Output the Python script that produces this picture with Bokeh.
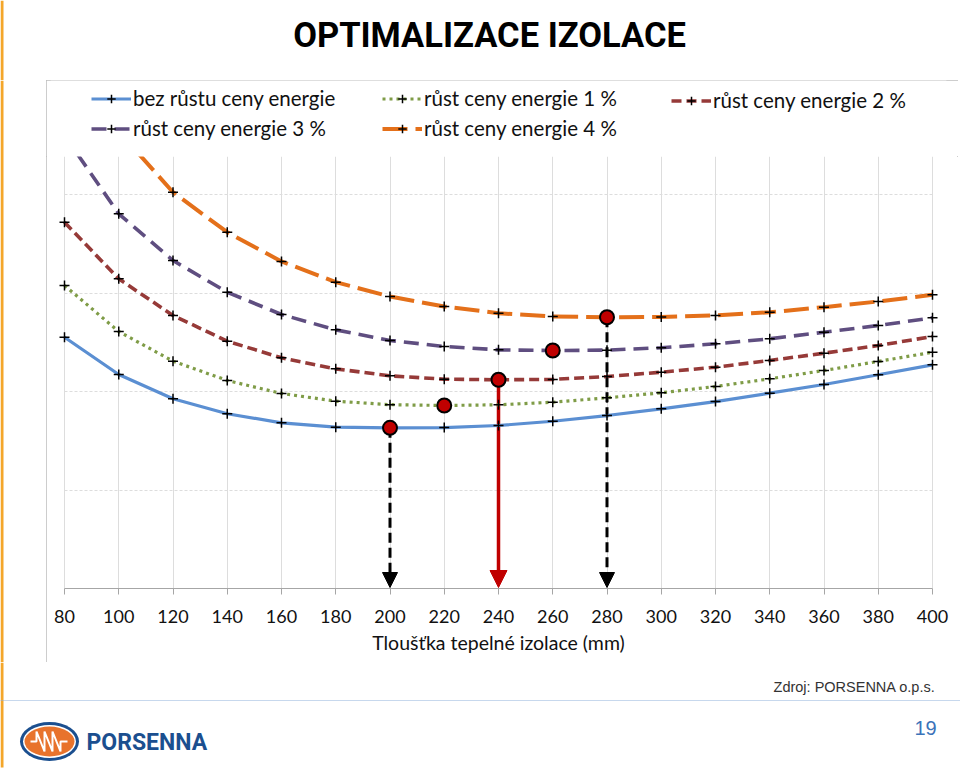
import numpy as np
from bokeh.plotting import figure
from bokeh.layouts import column, row
from bokeh.models import (Range1d, FixedTicker, Grid, Legend, LegendItem, Label,
                          Arrow, NormalHead, Span)
from bokeh.embed import file_html
from bokeh.resources import INLINE

# ---------------- data ----------------
thickness = [80, 100, 120, 140, 160, 180, 200, 220, 240, 260, 280, 300, 320, 340, 360, 380, 400]
labels = ["bez růstu ceny energie", "růst ceny energie 1 %", "růst ceny energie 2 %",
          "růst ceny energie 3 %", "růst ceny energie 4 %"]
cost_0 = [255.1, 217.3, 192.6, 177.4, 168.2, 163.8, 163.1, 163.4, 165.5, 169.8, 175.6, 182.4, 189.8, 198.3, 207.1, 217.0, 227.1]
cost_1 = [307.6, 260.9, 230.8, 211.2, 198.0, 190.2, 186.6, 185.8, 186.5, 189.1, 193.6, 198.7, 205.1, 212.9, 221.3, 230.5, 239.9]
cost_2 = [371.9, 314.4, 277.2, 251.1, 234.2, 223.0, 215.9, 212.5, 211.9, 212.3, 215.2, 219.6, 224.7, 231.5, 238.9, 246.7, 255.8]
cost_3 = [460.0, 380.4, 333.0, 300.8, 278.2, 262.6, 251.8, 245.7, 242.3, 241.6, 242.0, 244.4, 248.4, 253.5, 260.2, 267.0, 274.8]
cost_4 = [555.0, 464.0, 402.3, 361.7, 332.0, 311.0, 296.4, 286.3, 279.5, 276.1, 275.4, 275.7, 277.2, 280.5, 285.6, 291.4, 298.2]
y_grid_ticks = [100, 200, 300, 400]
title_text = "OPTIMALIZACE IZOLACE"
x_title = "Tloušťka tepelné izolace (mm)"
source_text = "Zdroj: PORSENNA o.p.s."
page_no = "19"
logo_text = "PORSENNA"

series = [cost_0, cost_1, cost_2, cost_3, cost_4]
colors = ["#5B8FD2", "#7F9C47", "#963A38", "#5F4E80", "#E4701A"]
widths = [3.2, 3.2, 3.6, 3.6, 4.0]
dashes = ["solid", "3 4", "10 5", "15 8", "25 8"]

FONT = "Lato"
STRIPE = "#F4A62A"

def blank(width, height, xr, yr):
    f = figure(width=width, height=height, x_range=Range1d(*xr), y_range=Range1d(*yr),
               x_axis_type=None, y_axis_type=None, output_backend="svg", toolbar_location=None,
               min_border=0)
    f.outline_line_color = None
    f.grid.visible = False
    f.background_fill_color = "white"
    f.border_fill_color = "white"
    return f

# ---------------- title strip (page y 0..80) ----------------
t = blank(960, 80, (0, 960), (80, 0))
t.quad(left=[0], right=[3], top=[0], bottom=[80], fill_color=STRIPE, line_color=None)
t.add_layout(Label(x=489, y=34, text=title_text, text_font="Roboto", text_font_size="34.5px",
                   text_font_style="bold", text_align="center", text_baseline="middle",
                   text_color="black"))

# ---------------- left strip beside the chart box (page y 80..662) ----------------
ls = blank(46, 582, (0, 46), (662, 80))
ls.quad(left=[0], right=[3], top=[80], bottom=[662], fill_color=STRIPE, line_color=None)

# ---------------- legend area inside box (page x 46..958, y 80..156) ----------------
lg_fig = blank(912, 76, (46, 958), (156, 80))
items = []
for lab, c, w, d in zip(labels, colors, widths, dashes):
    # legend-only renderers, their points lie outside the visible area
    r1 = lg_fig.line(x=[-200, -190], y=[-200, -200], line_color=c, line_width=w, line_dash=d)
    r2 = lg_fig.scatter(x=[-200], y=[-200], marker="cross", size=9, line_color="black",
                        line_width=1.5)
    items.append(LegendItem(label=lab, renderers=[r1, r2]))

def mk_legend(its, page_left, page_top):
    n = len(its)
    item_h = 21
    spacing = 6
    hgt = n * item_h + (n - 1) * spacing
    lg = Legend(items=its, location=(page_left - 46, 156 - (page_top + hgt)),
                orientation="vertical", glyph_width=40, glyph_height=item_h,
                label_height=item_h, label_standoff=2, spacing=spacing, padding=0, margin=0,
                border_line_color=None, background_fill_alpha=0, label_text_font=FONT,
                label_text_font_size="20.5px", label_text_color="#111111")
    lg_fig.add_layout(lg)

mk_legend([items[0], items[3]], 87, 92)
mk_legend([items[1], items[4]], 378, 92)
mk_legend([items[2]], 667, 91)

# ---------------- chart (page x 46..958, y 156..662) ----------------
CW, CH = 912, 506
BL, BR = 4, 12
pxu_x = 868.0 / 320.0
pxu_y = 0.985
x_start = 80 - (64 - 46 - BL) / pxu_x
x_end = x_start + (CW - BL - BR) / pxu_x
y_top = 432 / pxu_y

p = figure(width=CW, height=CH, x_range=Range1d(x_start, x_end), y_range=Range1d(0, y_top),
           y_axis_type=None, output_backend="svg", toolbar_location=None,
           min_border_left=BL, min_border_right=BR, min_border_top=0, min_border_bottom=CH - 432)
p.outline_line_color = None
p.background_fill_color = "white"
p.border_fill_color = "white"

ax = p.xaxis[0]
ax.ticker = FixedTicker(ticks=thickness)
ax.bounds = (80, 400)
ax.axis_line_color = "#A6A6A6"
ax.major_tick_line_color = "#A6A6A6"
ax.major_tick_out = 6
ax.major_tick_in = 0
ax.minor_tick_line_color = None
ax.major_label_text_font = FONT
ax.major_label_text_font_size = "18px"
ax.major_label_text_color = "#111111"
ax.major_label_standoff = 15
ax.axis_label = x_title
ax.axis_label_text_font = FONT
ax.axis_label_text_font_size = "19.5px"
ax.axis_label_text_font_style = "normal"
ax.axis_label_text_color = "#111111"
ax.axis_label_standoff = 5

p.xgrid.grid_line_color = "#DDDDDD"
p.xgrid.grid_line_width = 1

gkw = dict(dimension=1, ticker=FixedTicker(ticks=y_grid_ticks), grid_line_color="#DDDDDD",
           grid_line_dash="3 2", grid_line_width=1)
if "cross_bounds" in Grid.properties():
    gkw["cross_bounds"] = (80, 400)
p.add_layout(Grid(**gkw))

opt_idx = [int(np.argmin(s)) for s in series]
opt_x = [thickness[i] for i in opt_idx]
opt_y = [series[k][i] for k, i in enumerate(opt_idx)]
arrow_specs = [(0, "black", "10 5", 3.0, 15), (2, "#C00000", "solid", 3.5, 17), (4, "black", "10 5", 3.0, 15)]
for k, col, dash, lw, hs in arrow_specs:
    p.add_layout(Arrow(end=NormalHead(size=hs, fill_color=col, line_color=col, line_width=1),
                       x_start=opt_x[k], y_start=opt_y[k], x_end=opt_x[k], y_end=1.0,
                       line_color=col, line_width=lw, line_dash=dash, level="underlay"))

for s, c, w, d in zip(series, colors, widths, dashes):
    p.line(thickness, s, line_color=c, line_width=w, line_dash=d)
    p.scatter(thickness, s, marker="cross", size=10, line_color="black", line_width=1.5)

p.scatter(opt_x, opt_y, marker="circle", size=14, fill_color="#C00000", line_color="black", line_width=2)

box = column(lg_fig, p, spacing=0,
             styles={"outline": "1.5px solid #BDBDBD", "outline-offset": "-1.5px"})

# ---------------- footer (page y 662..784) ----------------
f = blank(960, 122, (0, 960), (784, 662))
f.quad(left=[0], right=[3], top=[662], bottom=[767], fill_color=STRIPE, line_color=None)
f.add_layout(Label(x=935, y=686, text=source_text, text_font="Liberation Sans",
                   text_font_size="14.5px", text_align="right", text_baseline="middle",
                   text_color="#333333"))
f.add_layout(Span(location=700, dimension="width", line_color="#8FB0DA", line_width=1,
                  line_dash="1 1"))
f.add_layout(Label(x=925, y=727, text=page_no, text_font="Liberation Sans",
                   text_font_size="20px", text_align="center", text_baseline="middle",
                   text_color="#3B73B9"))
# logo
f.ellipse(x=[49], y=[741], width=[59], height=[39], fill_color="#1B4F8F", line_color=None)
f.ellipse(x=[49], y=[741], width=[53], height=[33], fill_color="white", line_color=None)
f.ellipse(x=[49], y=[741], width=[50], height=[30], fill_color="#E8732C", line_color=None)
f.line(x=[30, 36, 36, 44, 44, 52, 52, 60, 60, 67], y=[741, 741, 731, 751, 731, 751, 731, 751, 741, 741],
       line_color="white", line_width=2)
f.add_layout(Label(x=86, y=742, text=logo_text, text_font="Roboto", text_font_size="23px",
                   text_font_style="bold", text_align="left", text_baseline="middle",
                   text_color="#1B4F8F"))

layout = column(t, row(ls, box, spacing=0), f, spacing=0)

open("out.html", "w").write(file_html(layout, INLINE))
